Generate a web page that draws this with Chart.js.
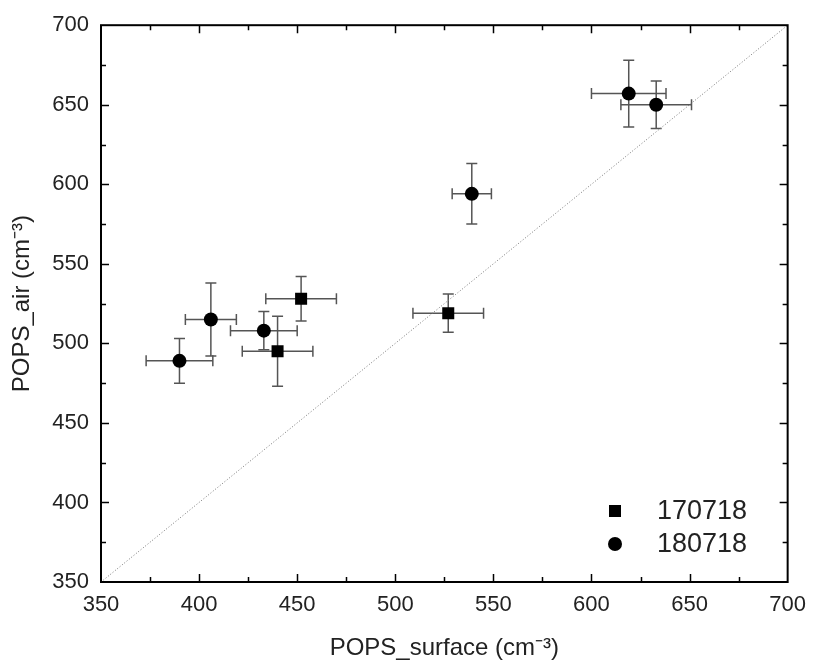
<!DOCTYPE html>
<html>
<head>
<meta charset="utf-8">
<script src="https://cdn.jsdelivr.net/npm/chart.js@4.4.0/dist/chart.umd.min.js"></script>
<style>
  html, body { margin: 0; padding: 0; background: #fff; }
  #wrap { width: 816px; height: 667px; }
</style>
</head>
<body>
<div id="wrap"><canvas id="chart" width="816" height="667"></canvas></div>
<script>
// 170718 (squares)
const sqX = [452, 440, 527]
const sqY = [528, 495, 519]
const sqXErr = [18, 18, 18]
const sqYErr = [14, 22, 12]

// 180718 (circles)
const ciX = [390, 406, 433, 539, 619, 633]
const ciY = [489, 515, 508, 594, 657, 650]
const ciXErr = [17, 13, 17, 10, 19, 18]
const ciYErr = [14, 23, 12, 19, 21, 15]

// 1:1 reference line
const oneToOne = [350, 700]

const axisMin = 350
const axisMax = 700
const majorStep = 50
const minorStep = 25

const FONT = "'Liberation Sans', Arial, sans-serif"

const toPoints = (xs, ys) => xs.map((x, i) => ({ x: x, y: ys[i] }))

const errorSets = [
    { x: sqX, y: sqY, xe: sqXErr, ye: sqYErr },
    { x: ciX, y: ciY, xe: ciXErr, ye: ciYErr }
]

// error bars, frame, inward ticks and the in-plot legend
const decorPlugin = {
    id: 'decor',
    beforeDatasetsDraw(chart) {
        const ctx = chart.ctx
        const xs = chart.scales.x
        const ys = chart.scales.y
        ctx.save()
        ctx.strokeStyle = '#555'
        ctx.lineWidth = 1.5
        const cap = 5.5
        errorSets.forEach(s => {
            s.x.forEach((v, i) => {
                const px = xs.getPixelForValue(v)
                const py = ys.getPixelForValue(s.y[i])
                const x0 = xs.getPixelForValue(v - s.xe[i])
                const x1 = xs.getPixelForValue(v + s.xe[i])
                const y0 = ys.getPixelForValue(s.y[i] - s.ye[i])
                const y1 = ys.getPixelForValue(s.y[i] + s.ye[i])
                ctx.beginPath()
                ctx.moveTo(x0, py); ctx.lineTo(x1, py)
                ctx.moveTo(x0, py - cap); ctx.lineTo(x0, py + cap)
                ctx.moveTo(x1, py - cap); ctx.lineTo(x1, py + cap)
                ctx.moveTo(px, y0); ctx.lineTo(px, y1)
                ctx.moveTo(px - cap, y0); ctx.lineTo(px + cap, y0)
                ctx.moveTo(px - cap, y1); ctx.lineTo(px + cap, y1)
                ctx.stroke()
            })
        })
        ctx.restore()
    },
    afterDraw(chart) {
        const ctx = chart.ctx
        const a = chart.chartArea
        const xs = chart.scales.x
        const ys = chart.scales.y
        ctx.save()
        ctx.strokeStyle = '#000'
        ctx.lineWidth = 1.5
        ctx.beginPath()
        for (let v = axisMin + minorStep; v < axisMax; v += minorStep) {
            const len = (v - axisMin) % majorStep === 0 ? 8 : 5
            const px = Math.round(xs.getPixelForValue(v)) + 0.5
            const py = Math.round(ys.getPixelForValue(v)) + 0.5
            ctx.moveTo(px, a.bottom); ctx.lineTo(px, a.bottom - len)
            ctx.moveTo(px, a.top); ctx.lineTo(px, a.top + len)
            ctx.moveTo(a.left, py); ctx.lineTo(a.left + len, py)
            ctx.moveTo(a.right, py); ctx.lineTo(a.right - len, py)
        }
        ctx.stroke()
        ctx.lineWidth = 2
        ctx.strokeRect(a.left, a.top, a.right - a.left, a.bottom - a.top)

        // legend
        const lx = 615
        const rows = [511, 544]
        ctx.fillStyle = '#000'
        ctx.font = '27px ' + FONT
        ctx.textBaseline = 'middle'
        ;[0, 1].forEach(i => {
            const ds = chart.data.datasets[i]
            const y = rows[i]
            ctx.beginPath()
            if (ds.pointStyle === 'rect') {
                ctx.rect(lx - 6, y - 6, 12, 12)
            } else {
                ctx.arc(lx, y, 7, 0, Math.PI * 2)
            }
            ctx.fill()
            ctx.fillStyle = '#222'
            ctx.fillText(ds.label, 657, y + 1)
            ctx.fillStyle = '#000'
        })
        ctx.restore()
    }
}

new Chart(document.getElementById('chart'), {
    type: 'scatter',
    data: {
        datasets: [
            {
                label: '170718',
                data: toPoints(sqX, sqY),
                pointStyle: 'rect',
                pointRadius: 8.5,
                backgroundColor: '#000',
                borderColor: '#000',
                borderWidth: 0
            },
            {
                label: '180718',
                data: toPoints(ciX, ciY),
                pointStyle: 'circle',
                pointRadius: 7,
                backgroundColor: '#000',
                borderColor: '#000',
                borderWidth: 0
            },
            {
                type: 'line',
                label: '1:1',
                data: toPoints(oneToOne, oneToOne),
                borderColor: '#777',
                borderWidth: 1,
                borderDash: [1, 2],
                pointRadius: 0,
                fill: false
            }
        ]
    },
    options: {
        responsive: false,
        animation: false,
        layout: {
            padding: { left: 0, right: 22, top: 23, bottom: 0 }
        },
        plugins: {
            legend: { display: false },
            tooltip: { enabled: false }
        },
        scales: {
            x: {
                type: 'linear',
                min: axisMin,
                max: axisMax,
                afterFit: (s) => { s.height = 85 },
                grid: { display: false, drawTicks: false },
                border: { display: false },
                ticks: {
                    stepSize: majorStep,
                    padding: 10,
                    color: '#222',
                    font: { family: FONT, size: 22 }
                },
                title: {
                    display: true,
                    text: 'POPS_surface (cm⁻³)',
                    color: '#222',
                    padding: { top: 0, bottom: 4 },
                    font: { family: FONT, size: 24 }
                }
            },
            y: {
                type: 'linear',
                min: axisMin,
                max: axisMax,
                afterFit: (s) => { s.width = 101 },
                grid: { display: false, drawTicks: false },
                border: { display: false },
                ticks: {
                    stepSize: majorStep,
                    padding: 12,
                    color: '#222',
                    font: { family: FONT, size: 22 }
                },
                title: {
                    display: true,
                    text: 'POPS_air (cm⁻³)',
                    color: '#222',
                    padding: { top: 8, bottom: 0 },
                    font: { family: FONT, size: 24 }
                }
            }
        }
    },
    plugins: [decorPlugin]
})
</script>
</body>
</html>
